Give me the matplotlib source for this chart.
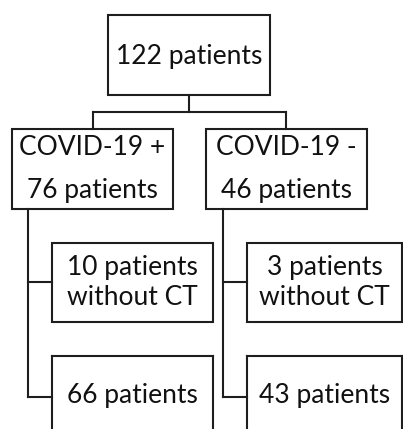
import matplotlib
matplotlib.use("Agg")
import matplotlib.pyplot as plt
from matplotlib.patches import Rectangle

# Data
top_label = "122 patients"
group_titles = ["COVID-19 +", "COVID-19 -"]
group_counts = ["76 patients", "46 patients"]
sub_nocT = ["10 patients\nwithout CT", "3 patients\nwithout CT"]
sub_ct = ["66 patients", "43 patients"]

W, H = 403, 429
fig = plt.figure(figsize=(W / 100, H / 100), dpi=100)
ax = fig.add_axes([0, 0, 1, 1])
ax.set_xlim(0, W)
ax.set_ylim(H, 0)
ax.axis("off")

LC = "#1e1e1e"
LW = 1.5
FONT = "Lato"
FS = 19

def box(x0, y0, x1, y1):
    ax.add_patch(Rectangle((x0, y0), x1 - x0, y1 - y0, fill=False,
                           edgecolor=LC, linewidth=LW, clip_on=False))

def line(xs, ys):
    ax.plot(xs, ys, color=LC, linewidth=LW, solid_capstyle="projecting",
            clip_on=False)

def txt(x, y, s):
    ax.text(x, y, s, ha="center", va="baseline", fontsize=FS,
            family=FONT, color="#111111")

# top box
box(108, 15, 270, 95)
txt(189, 64, top_label)
line([189, 189], [95, 112])
line([93, 286], [112, 112])
line([93, 93], [112, 129])
line([286, 286], [112, 129])

# group boxes
gx = [(12, 173), (206, 367)]
trunk = [28, 223]
sub_x = [(52, 213), (247, 402)]
for i in range(2):
    x0, x1 = gx[i]
    box(x0, 129, x1, 209)
    cx = (x0 + x1) / 2
    txt(cx, 155, group_titles[i])
    txt(cx, 198, group_counts[i])
    t = trunk[i]
    line([t, t], [209, 397])
    sx0, sx1 = sub_x[i]
    line([t, sx0], [282, 282])
    line([t, sx0], [397, 397])
    box(sx0, 243, sx1, 322)
    scx = (sx0 + sx1) / 2
    a, b = sub_nocT[i].split("\n")
    txt(scx, 275, a)
    txt(scx, 305, b)
    # lower box (cut at bottom edge)
    line([sx0, sx1], [356, 356])
    line([sx0, sx0], [356, H + 5])
    line([sx1, sx1], [356, H + 5])
    txt(scx, 403, sub_ct[i])

fig.savefig("out.png", dpi=100)
